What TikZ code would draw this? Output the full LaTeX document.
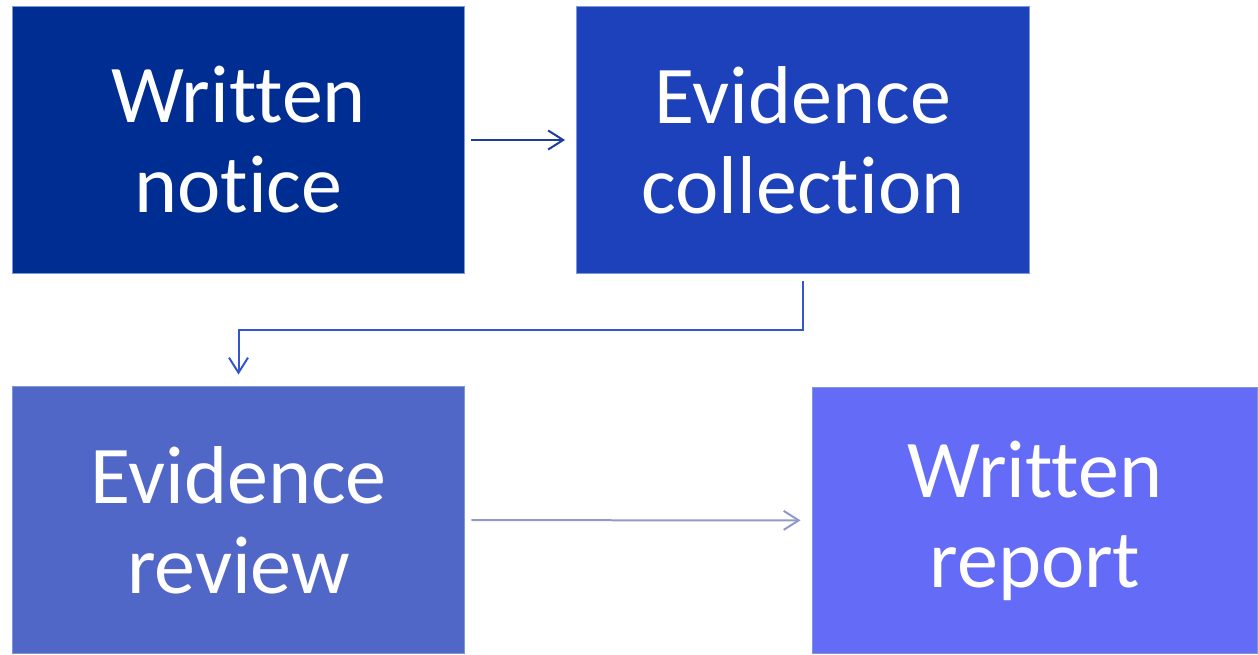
\documentclass[tikz,border=0pt]{standalone}
\usepackage{fontspec}
\setmainfont{Carlito}[Ligatures={NoCommon}]
\usepackage{xcolor}
\usepackage{tikz}
\usetikzlibrary{arrows.meta, positioning}

\definecolor{navyA}{HTML}{002D91}
\definecolor{blueB}{HTML}{1C41BA}
\definecolor{blueC}{HTML}{5067C8}
\definecolor{blueD}{HTML}{636BF7}
\definecolor{edgeL}{HTML}{7B98D8}
\definecolor{arrowA}{HTML}{1C3C9E}
\definecolor{arrowB}{HTML}{3555CC}
\definecolor{arrowC}{HTML}{9199C9}

\begin{document}
\begin{tikzpicture}[x=0.02cm, y=-0.02cm,
            box/.style={draw=edgeL, line width=0.02cm, rectangle, minimum width=9.06cm, minimum height=5.36cm, align=center, text=white, inner sep=0pt, font=\fontsize{46.7}{51.2}\selectfont},
            arrow/.style={-{Straight Barb[length=0.3cm, width=0.38cm, line width=0.04cm]}, line width=0.04cm}]

            \useasboundingbox (0,0) rectangle (1258,654);

            \node[box, fill=navyA] (notice) at (238.5,140) {Written\\notice};
            \node[box, fill=blueB] (collection) at (803,140) {Evidence\\collection};
            \node[box, fill=blueC] (review) at (238.5,520) {Evidence\\review};
            \node[box, fill=blueD, minimum width=8.92cm, minimum height=5.34cm] (report) at (1035,520.5) {Written\\report};

            \draw[arrow, draw=arrowA, shorten <=0.12cm, shorten >=0.22cm] (notice) -- (collection);
            \draw[arrow, draw=arrowB, shorten <=0.14cm, shorten >=0.22cm] (collection.south) -- ++(0,56) -| (review.north);
            \draw[arrow, draw=arrowC, shorten <=0.12cm, shorten >=0.22cm] (review) -- (report);
        \end{tikzpicture}
\end{document}
